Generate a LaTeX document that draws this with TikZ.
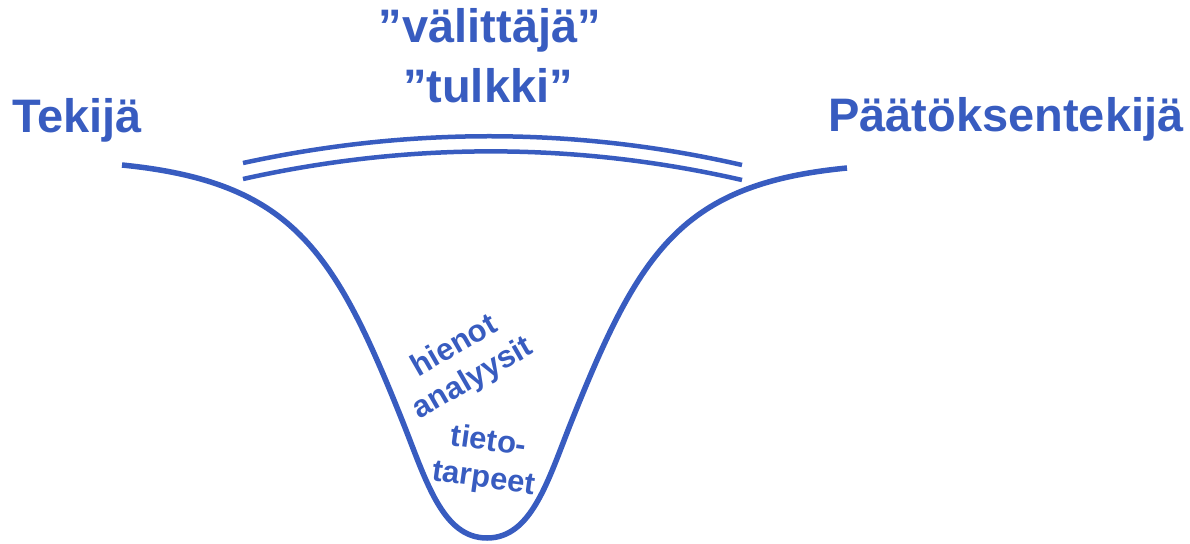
\documentclass[tikz,border=0pt]{standalone}
\usepackage{fontspec}
\setmainfont{Liberation Sans}
\definecolor{sininen}{RGB}{56,92,192}
\tikzset{
  otsikko/.style={text=sininen,font=\fontsize{47}{56}\selectfont\bfseries,inner sep=0pt},
  pieni/.style={text=sininen,font=\fontsize{31}{37}\selectfont\bfseries,align=center,inner sep=0pt},
  viiva/.style={draw=sininen,line width=5.5pt}
}

\begin{document}
\begin{tikzpicture}[x=1pt,y=-1pt] % 1 yksikko = 1 px, y alaspain
  \useasboundingbox (0,0) rectangle (1190,543);
  \draw[viiva] (122,165) .. controls (292,182) and (334,250) .. (402,420)
    .. controls (426,480) and (442,538) .. (487,538)
    .. controls (532,538) and (548,480) .. (572,420)
    .. controls (640,250) and (682,184) .. (847,168);
  \draw[viiva,line width=4.5pt] (243,163) .. controls (409,127) and (576,127) .. (742,165);
  \draw[viiva,line width=4.5pt] (243,179) .. controls (409,142) and (576,142) .. (742,180);
  \node[otsikko,anchor=base west] (tekija) at (12,132) {Tekijä};
  \node[otsikko,anchor=base west] (paattaja) at (828,131) {Päätöksentekijä};
  \node[otsikko,anchor=base] (valittaja) at (490,43) {”välittäjä”};
  \node[otsikko,anchor=base] (tulkki) at (488,102) {”tulkki”};
  \node[pieni,rotate=30] (analyysit) at (464,363) {hienot\\analyysit};
  \node[pieni,rotate=-8] (tarpeet) at (486,461) {tieto-\\tarpeet};
\end{tikzpicture}
\end{document}
